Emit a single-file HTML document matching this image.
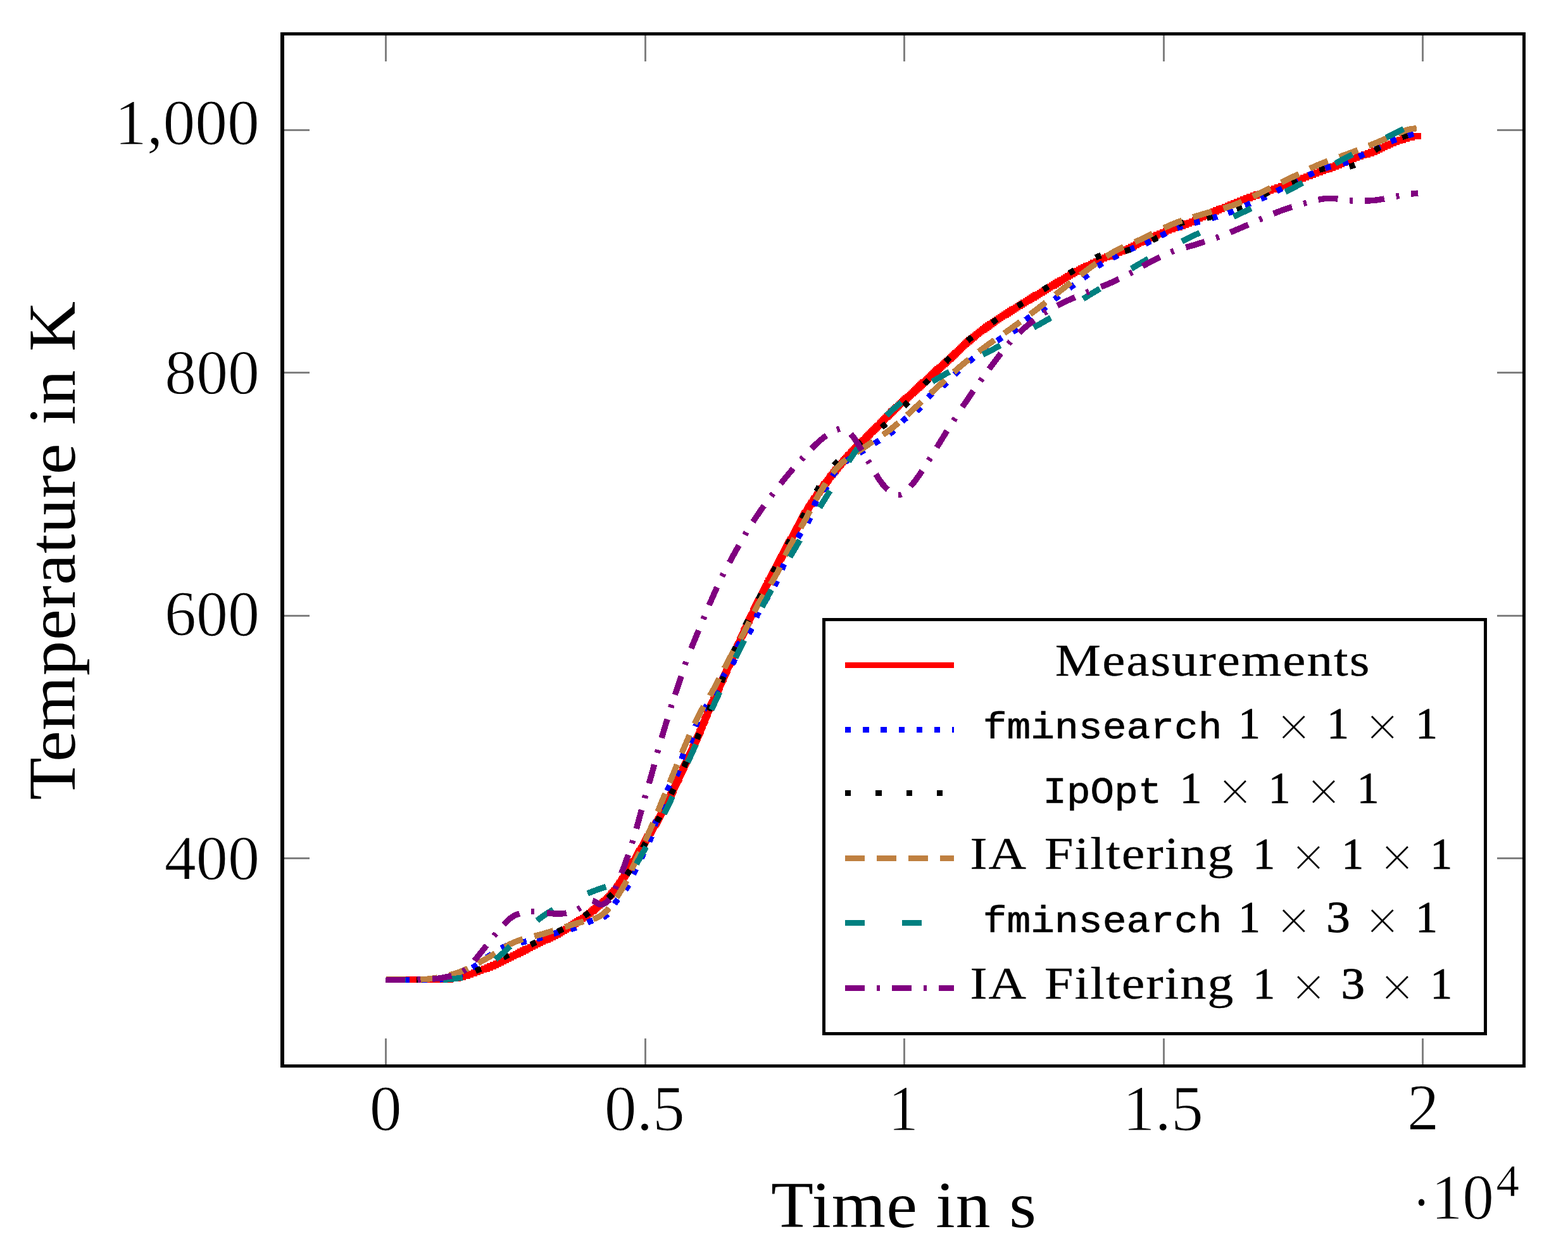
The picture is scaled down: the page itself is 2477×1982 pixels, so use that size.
<!DOCTYPE html>
<html lang="en"><head><meta charset="utf-8"><title>Temperature in K over Time in s</title>
<style>
html,body{margin:0;padding:0;background:#fff;}
body{width:2477px;height:1982px;overflow:hidden;}
svg{display:block;}
text{fill:#000;white-space:pre;}
.s{font-family:"Liberation Serif",serif;}
.m{font-family:"Liberation Mono",monospace;}
.c{fill:none;stroke-width:9.4;stroke-linejoin:miter;stroke-linecap:butt;}
.t{stroke:#808080;stroke-width:3;fill:none;}
</style></head><body>
<svg width="2477" height="1982" viewBox="0 0 2477 1982">
<rect x="0" y="0" width="2477" height="1982" fill="#ffffff"/>
<g class="t" shape-rendering="crispEdges">
<path d="M609.5 1683.5V1640M609.5 53.5V97"/>
<path d="M1019 1683.5V1640M1019 53.5V97"/>
<path d="M1428.5 1683.5V1640M1428.5 53.5V97"/>
<path d="M1838 1683.5V1640M1838 53.5V97"/>
<path d="M2247.5 1683.5V1640M2247.5 53.5V97"/>
<path d="M446 205.5H489M2407.5 205.5H2364.5"/>
<path d="M446 588.8H489M2407.5 588.8H2364.5"/>
<path d="M446 972.1H489M2407.5 972.1H2364.5"/>
<path d="M446 1355.4H489M2407.5 1355.4H2364.5"/>
</g>
<defs><clipPath id="cp"><rect x="446" y="53.5" width="1961.5" height="1630"/></clipPath></defs>
<g clip-path="url(#cp)" shape-rendering="crispEdges">
<path class="c" stroke="#ff0000" d="M609.5 1547H711.7V1545.1H723.7V1543.2H731.5V1541.3H737.9V1539.4H743.6V1537.5H748.9V1535.6H754.2V1533.6H759.4V1531.7H764.4V1529.8H769.4V1527.9H774.1V1526H778.8V1524.1H783.3V1522.1H787.6V1520.2H791.7V1518.3H795.7V1516.4H799.6V1514.5H803.4V1512.6H807.1V1510.6H810.9V1508.7H814.6V1506.8H818.4V1504.9H822.1V1503H825.9V1501.1H829.8V1499.1H833.7V1497.2H837.6V1495.3H841.4V1493.4H845.4V1491.5H849.3V1489.6H853.2V1487.6H857.2V1485.7H861.2V1483.8H865.1V1481.9H869V1480H873V1478.1H877.1V1476.1H880.8V1474.2H884.4V1472.3H887.6V1470.4H890.8V1468.5H893.8V1466.6H896.9V1464.6H900V1462.7H903V1460.8H905.9V1458.9H908.9V1457H911.8V1455.1H914.7V1453.1H917.6V1451.2H920.4V1449.3H923.2V1447.4H925.9V1445.5H928.5V1443.6H931.1V1441.6H933.5V1439.7H935.8V1437.8H938.1V1435.9H940.3V1434H942.5V1432.1H944.7V1430.1H946.9V1428.2H949.2V1426.3H951.6V1424.4H953.9V1422.5H956.3V1420.6H958.6V1418.6H960.7V1416.7H962.7V1414.8H964.4V1412.9H966.1V1411H967.7V1409.1H969.3V1407.1H970.8V1405.2H972.2V1403.3H973.6V1401.4H975V1399.5H976.4V1397.6H977.7V1395.6H979.1V1393.7H980.4V1391.8H981.7V1389.9H983.1V1388H984.4V1386.1H985.6V1384.1H986.9V1382.2H988.2V1380.3H989.4V1378.4H990.6V1376.5H991.8V1374.6H993V1372.6H994.2V1370.7H995.3V1368.8H996.5V1366.9H997.7V1365H998.8V1363.1H1000V1361.1H1001.1V1359.2H1002.3V1357.3H1003.4V1355.4H1004.6V1353.5H1005.7V1351.6H1006.8V1349.7H1007.9V1347.7H1009V1345.8H1010.1V1343.9H1011.3V1342H1012.3V1340.1H1013.4V1338.2H1014.5V1336.2H1015.6V1334.3H1016.7V1332.4H1017.8V1330.5H1018.8V1328.6H1019.9V1326.7H1020.9V1324.7H1022V1322.8H1023.1V1320.9H1024.3V1319H1025.4V1317.1H1026.6V1315.2H1027.8V1313.2H1028.9V1311.3H1030.2V1309.4H1031.3V1307.5H1032.6V1305.6H1033.7V1303.7H1034.9V1301.7H1036.1V1299.8H1037.3V1297.9H1038.4V1296H1039.5V1294.1H1040.5V1292.2H1041.5V1290.2H1042.6V1288.3H1043.6V1286.4H1044.6V1284.5H1045.6V1282.6H1046.6V1280.7H1047.6V1278.7H1048.6V1276.8H1049.6V1274.9H1050.6V1273H1051.5V1271.1H1052.5V1269.2H1053.4V1267.2H1054.4V1265.3H1055.4V1263.4H1056.3V1261.5H1057.3V1259.6H1058.2V1257.7H1059.1V1255.7H1060.1V1253.8H1061V1251.9H1061.9V1250H1062.9V1248.1H1063.8V1246.2H1064.7V1244.2H1065.6V1242.3H1066.6V1240.4H1067.5V1238.5H1068.4V1236.6H1069.3V1234.7H1070.2V1232.7H1071.1V1230.8H1071.9V1228.9H1072.8V1227H1073.7V1225.1H1074.6V1223.2H1075.5V1221.2H1076.4V1219.3H1077.3V1217.4H1078.1V1215.5H1079V1213.6H1079.9V1211.7H1080.8V1209.7H1081.6V1207.8H1082.5V1205.9H1083.4V1204H1084.3V1202.1H1085.2V1200.2H1086.1V1198.2H1086.9V1196.3H1087.8V1194.4H1088.8V1192.5H1089.6V1190.6H1090.5V1188.7H1091.4V1186.7H1092.3V1184.8H1093.2V1182.9H1094.1V1181H1094.9V1179.1H1095.8V1177.2H1096.7V1175.2H1097.5V1173.3H1098.4V1171.4H1099.3V1169.5H1100.1V1167.6H1101V1165.7H1101.8V1163.8H1102.7V1161.8H1103.5V1159.9H1104.3V1158H1105.1V1156.1H1106V1154.2H1106.8V1152.3H1107.5V1150.3H1108.3V1148.4H1109.2V1146.5H1110V1144.6H1110.7V1142.7H1111.5V1140.8H1112.3V1138.8H1113.1V1136.9H1113.9V1135H1114.7V1133.1H1115.4V1131.2H1116.2V1129.3H1117V1127.3H1117.9V1125.4H1118.6V1123.5H1119.5V1121.6H1120.3V1119.7H1121.1V1117.8H1122V1115.8H1122.8V1113.9H1123.6V1112H1124.5V1110.1H1125.3V1108.2H1126.2V1106.3H1127.1V1104.3H1127.9V1102.4H1128.8V1100.5H1129.7V1098.6H1130.6V1096.7H1131.5V1094.8H1132.4V1092.8H1133.2V1090.9H1134.1V1089H1135V1087.1H1135.9V1085.2H1136.8V1083.3H1137.6V1081.3H1138.5V1079.4H1139.4V1077.5H1140.2V1075.6H1141.1V1073.7H1142V1071.8H1142.8V1069.8H1143.7V1067.9H1144.5V1066H1145.4V1064.1H1146.3V1062.2H1147.1V1060.3H1148V1058.3H1148.8V1056.4H1149.7V1054.5H1150.5V1052.6H1151.4V1050.7H1152.2V1048.8H1153.1V1046.8H1153.9V1044.9H1154.8V1043H1155.6V1041.1H1156.5V1039.2H1157.3V1037.3H1158.1V1035.3H1159V1033.4H1159.8V1031.5H1160.6V1029.6H1161.5V1027.7H1162.3V1025.8H1163.2V1023.8H1164V1021.9H1164.9V1020H1165.7V1018.1H1166.6V1016.2H1167.4V1014.3H1168.3V1012.3H1169.1V1010.4H1170V1008.5H1170.9V1006.6H1171.7V1004.7H1172.6V1002.8H1173.4V1000.8H1174.3V998.9H1175.1V997H1176V995.1H1176.9V993.2H1177.7V991.3H1178.6V989.3H1179.5V987.4H1180.3V985.5H1181.2V983.6H1182.1V981.7H1182.9V979.8H1183.8V977.8H1184.7V975.9H1185.6V974H1186.5V972.1H1187.4V970.2H1188.3V968.3H1189.2V966.4H1190.1V964.4H1191V962.5H1191.9V960.6H1192.8V958.7H1193.8V956.8H1194.7V954.9H1195.7V952.9H1196.6V951H1197.6V949.1H1198.5V947.2H1199.5V945.3H1200.4V943.4H1201.4V941.4H1202.4V939.5H1203.3V937.6H1204.3V935.7H1205.3V933.8H1206.3V931.9H1207.2V929.9H1208.2V928H1209.2V926.1H1210.2V924.2H1211.2V922.3H1212.1V920.4H1213.2V918.4H1214.1V916.5H1215.2V914.6H1216.2V912.7H1217.2V910.8H1218.2V908.9H1219.3V906.9H1220.3V905H1221.3V903.1H1222.3V901.2H1223.4V899.3H1224.4V897.4H1225.4V895.4H1226.5V893.5H1227.5V891.6H1228.6V889.7H1229.6V887.8H1230.6V885.9H1231.7V883.9H1232.7V882H1233.8V880.1H1234.8V878.2H1235.8V876.3H1236.9V874.4H1237.9V872.4H1238.9V870.5H1239.9V868.6H1241V866.7H1241.9V864.8H1243V862.9H1244V860.9H1245V859H1246.1V857.1H1247.1V855.2H1248.1V853.3H1249.1V851.4H1250.2V849.4H1251.2V847.5H1252.3V845.6H1253.3V843.7H1254.3V841.8H1255.4V839.9H1256.4V837.9H1257.4V836H1258.5V834.1H1259.5V832.2H1260.5V830.3H1261.5V828.4H1262.5V826.4H1263.5V824.5H1264.5V822.6H1265.6V820.7H1266.6V818.8H1267.7V816.9H1268.7V814.9H1269.9V813H1271V811.1H1272.1V809.2H1273.2V807.3H1274.5V805.4H1275.7V803.4H1276.9V801.5H1278.1V799.6H1279.4V797.7H1280.7V795.8H1281.9V793.9H1283.2V791.9H1284.5V790H1285.8V788.1H1287.1V786.2H1288.4V784.3H1289.7V782.4H1291.1V780.5H1292.4V778.5H1293.8V776.6H1295.1V774.7H1296.5V772.8H1297.8V770.9H1299.2V769H1300.7V767H1302V765.1H1303.4V763.2H1304.9V761.3H1306.3V759.4H1307.8V757.5H1309.2V755.5H1310.7V753.6H1312.1V751.7H1313.7V749.8H1315.2V747.9H1316.7V746H1318.2V744H1319.8V742.1H1321.4V740.2H1323V738.3H1324.7V736.4H1326.3V734.5H1328V732.5H1329.6V730.6H1331.3V728.7H1333V726.8H1334.7V724.9H1336.4V723H1338.2V721H1339.9V719.1H1341.6V717.2H1343.3V715.3H1345.1V713.4H1346.8V711.5H1348.7V709.5H1350.5V707.6H1352.4V705.7H1354.4V703.8H1356.4V701.9H1358.4V700H1360.3V698H1362.3V696.1H1364.3V694.2H1366.2V692.3H1368.1V690.4H1370V688.5H1371.9V686.5H1373.8V684.6H1375.7V682.7H1377.7V680.8H1379.6V678.9H1381.5V677H1383.5V675H1385.4V673.1H1387.3V671.2H1389.2V669.3H1391.1V667.4H1393V665.5H1394.8V663.5H1396.7V661.6H1398.6V659.7H1400.5V657.8H1402.4V655.9H1404.3V654H1406.2V652H1408.1V650.1H1410.1V648.2H1412.1V646.3H1414.1V644.4H1416.1V642.5H1418.2V640.5H1420.3V638.6H1422.4V636.7H1424.5V634.8H1426.7V632.9H1428.9V631H1431.1V629H1433.2V627.1H1435.3V625.2H1437.5V623.3H1439.7V621.4H1441.8V619.5H1443.9V617.5H1446V615.6H1448V613.7H1450V611.8H1452.1V609.9H1454.1V608H1456.1V606H1458.1V604.1H1460.2V602.2H1462.2V600.3H1464.3V598.4H1466.3V596.5H1468.4V594.5H1470.5V592.6H1472.6V590.7H1474.7V588.8H1476.8V586.9H1479V585H1481.1V583.1H1483.2V581.1H1485.4V579.2H1487.6V577.3H1489.7V575.4H1491.8V573.5H1494V571.6H1496.1V569.6H1498.2V567.7H1500.3V565.8H1502.3V563.9H1504.4V562H1506.4V560.1H1508.4V558.1H1510.4V556.2H1512.3V554.3H1514.2V552.4H1516.3V550.5H1518.2V548.6H1520.2V546.6H1522.3V544.7H1524.3V542.8H1526.5V540.9H1528.6V539H1530.9V537.1H1533.2V535.1H1535.5V533.2H1537.8V531.3H1540.2V529.4H1542.7V527.5H1545.2V525.6H1547.7V523.6H1550.2V521.7H1552.8V519.8H1555.5V517.9H1558.1V516H1560.8V514.1H1563.5V512.1H1566.2V510.2H1568.9V508.3H1571.7V506.4H1574.5V504.5H1577.4V502.6H1580.2V500.6H1583.2V498.7H1586.2V496.8H1589.2V494.9H1592.2V493H1595.3V491.1H1598.4V489.1H1601.5V487.2H1604.6V485.3H1607.7V483.4H1610.8V481.5H1613.9V479.6H1617V477.6H1620.2V475.7H1623.3V473.8H1626.5V471.9H1629.7V470H1632.9V468.1H1636.1V466.1H1639.3V464.2H1642.5V462.3H1645.8V460.4H1649V458.5H1652.1V456.6H1655.4V454.6H1658.5V452.7H1661.6V450.8H1664.8V448.9H1667.9V447H1671V445.1H1674.2V443.1H1677.3V441.2H1680.5V439.3H1683.7V437.4H1687V435.5H1690.4V433.6H1693.8V431.6H1697.3V429.7H1700.8V427.8H1704.3V425.9H1708V424H1711.7V422.1H1715.4V420.1H1719.3V418.2H1723.2V416.3H1727.1V414.4H1731.2V412.5H1735.4V410.6H1739.7V408.6H1744.2V406.7H1748.9V404.8H1753.8V402.9H1758.7V401H1763.7V399.1H1768.6V397.1H1773.4V395.2H1778.1V393.3H1782.5V391.4H1786.7V389.5H1790.9V387.6H1794.9V385.7H1798.7V383.7H1802.7V381.8H1806.6V379.9H1810.4V378H1814.4V376.1H1818.5V374.2H1822.7V372.2H1827V370.3H1831.6V368.4H1836.3V366.5H1841.4V364.6H1846.7V362.7H1852V360.7H1857.5V358.8H1862.9V356.9H1868.2V355H1873.2V353.1H1878.2V351.2H1882.8V349.2H1887.2V347.3H1891.4V345.4H1895.6V343.5H1899.8V341.6H1903.8V339.7H1907.9V337.7H1912.1V335.8H1916.4V333.9H1920.8V332H1925.4V330.1H1929.9V328.2H1934.6V326.2H1939.3V324.3H1944V322.4H1948.9V320.5H1953.7V318.6H1958.6V316.7H1963.6V314.7H1968.7V312.8H1973.8V310.9H1979.2V309H1984.9V307.1H1990.6V305.2H1996.3V303.2H2002V301.3H2007.5V299.4H2012.9V297.5H2018.1V295.6H2023.2V293.7H2028.3V291.7H2033.3V289.8H2038.4V287.9H2043.4V286H2048.4V284.1H2053.4V282.2H2058.6V280.2H2063.7V278.3H2069V276.4H2074.3V274.5H2079.6V272.6H2084.9V270.7H2090.2V268.7H2095.3V266.8H2100.4V264.9H2105.3V263H2110.1V261.1H2115V259.2H2119.6V257.2H2124.3V255.3H2129.1V253.4H2133.8V251.5H2138.6V249.6H2143.7V247.7H2148.9V245.7H2154.6V243.8H2160.4V241.9H2165.8V240H2170.8V238.1H2175.4V236.2H2179.6V234.2H2183.7V232.3H2187.7V230.4H2191.9V228.5H2196.2V226.6H2200.9V224.7H2205.9V222.7H2211V220.8H2216.4V218.9H2222.4V217H2230.1V215.1H2245"/>
<path class="c" stroke="#0000ff" stroke-dasharray="9.3 18.9" d="M609.6 1547.2L618.9 1547.2M637.8 1547.2L647 1547.2M666 1547.2L675.2 1547.2M694.2 1547L703.4 1546M721.6 1542.1L726.2 1540.4L730.2 1538.6M746.1 1528.7L753.8 1523.4M768.7 1512.2L776.3 1506.9M791.6 1497.3L795.6 1495.5L800.2 1493.8M822.8 1488.7L831.8 1486.6M847.8 1483L856.8 1480.5M874.3 1474.6L883.2 1472M901.4 1467.7L905.8 1466.3L910.2 1464.7M928 1456.9L933 1454.8L936.7 1453.7M952.6 1449.2L956.4 1446.9L960 1443.6M970.7 1427.6L973 1424.2L976.2 1420.1M988.1 1405.5L990.7 1401.6L993 1397.6M1000.6 1380.7L1004.7 1372L1017 1347M1025.8 1329.3L1029.2 1320.6M1034.1 1304.2L1037.5 1294.4L1047.1 1269.1M1054.1 1248.8L1056.2 1244.2L1058.2 1240.5M1068.5 1225.1L1070.6 1221L1072.2 1216.7M1076.8 1198.9L1078.2 1194.7L1080.3 1190.3M1090.2 1173L1092.2 1168.8L1093.9 1164.5M1098.8 1147.3L1100.3 1143.5L1102.4 1138.8M1112 1121.3L1117 1113.4M1128.6 1097.6L1131.2 1093.5L1133.2 1089.6M1140.9 1071.6L1143.1 1067.3L1145.5 1063.6M1156.7 1049.2L1159.1 1045L1160.6 1040.9M1164.8 1022.4L1166.6 1018.1L1169.2 1014.2M1182.6 1000.2L1185.3 996.7L1187.7 992.4M1194.6 975L1196.6 970.6L1200.2 963.9L1213.1 942.5M1223.6 925.5L1227.8 917.2M1235 899.3L1240.7 887L1251.7 865.7M1260.3 849.5L1265.1 841.6M1275.8 825.9L1278.1 821.6L1279.8 817.5M1285.8 798.8L1287.7 794.6L1290.1 790.6M1301.7 776.2L1304.4 772.4L1306.7 768.4M1315.1 751.9L1317.4 748.4L1320.6 744.4M1334.9 730.1L1339.1 726.6L1342.3 724.4M1357.5 715.6L1365.4 710.7M1381.2 700.4L1389.1 695.5M1405.2 685.6L1409.1 682.6L1412.3 679.7M1425 665.7L1428.4 662.5L1432.1 659.7M1447.9 649.3L1451.5 646.3L1454.7 642.9M1466.1 627.7L1469.1 624.5L1472.8 621.3M1488.9 610.2L1492.3 607.5L1495.9 604.1M1507.9 591.5L1514.6 585.1M1530.8 571.1L1542.5 561.8L1560.6 548.5M1575 538.2L1582.9 533.3M1599.8 524.3L1603.9 521.6L1607.3 518.7M1620.2 505.3L1623.6 502.5L1627.6 499.7M1645 490.2L1648.7 487.8L1652.6 484.9M1665.9 473L1673.2 467.1M1689.6 454.9L1697.2 449.5M1711.7 439.3L1719 433.6M1733.9 420.8L1737.7 418.1L1741.6 415.6M1757.6 407.5L1765.9 403.3M1783.8 394.6L1792.3 391M1809.4 384.8L1817.9 381M1834 372.5L1842.3 368.3M1859.5 360.3L1868.2 357.1M1886.5 352.2L1895.5 349.8M1914.3 344.6L1923.3 342M1940.1 336.6L1948.8 333.2M1966.8 325L1975.3 321.3M1992 314.3L2000.4 310.4M2016.9 301.7L2025.2 297.5M2042.2 289.1L2050.5 284.9M2066.9 276.5L2075.4 272.6M2093.4 265.6L2102.3 262.8M2121.3 258.5L2125.5 257.2L2130 255.4M2146.5 247.3L2154.9 243.3M2172.2 235.5L2180.6 231.5M2197.2 223.5L2205.8 220M2224.2 214L2233.1 211.3"/>
<path class="c" stroke="#000000" stroke-dasharray="9.2 39.2" d="M609.5 1547.2L618.7 1547.2M657.9 1547.2L667.1 1547.2M706.3 1546.9L715.4 1545.4M751.3 1533.4L759.8 1529.9M795.3 1512.1L803.6 1508.1M838.3 1491.9L846.7 1487.9M881.3 1471.3L889.4 1466.9M922.9 1446.6L930.5 1441.4M961 1418.4L967.5 1411.9M990.2 1381.7L995.3 1374M1015.6 1338.8L1020 1330.8M1037.9 1298.1L1042.1 1289.9M1060.3 1254.3L1064.3 1246.1M1080.5 1211.3L1084.3 1202.9M1100.7 1167.1L1104.4 1158.7M1119.6 1122.2L1123.2 1113.8M1139.6 1077.2L1143.2 1068.8M1158.6 1030L1162.2 1021.6M1177.5 987.7L1181.5 979.3M1197.9 946.4L1202.1 938.2M1220.8 903.9L1225.2 895.7M1243.7 860.6L1248.1 852.6M1266.8 818.8L1271.2 810.8M1289.5 776.3L1294.3 768.5M1317.4 734.8L1323.6 728M1353.4 703.3L1360.7 697.7M1392.7 675.1L1399.8 669.2M1428 641.7L1434.4 635.1M1460.6 606.8L1466.8 600M1493.8 571.6L1500.3 565M1528.5 538.2L1535.6 532.3M1567.2 509.5L1574.8 504.3M1607.8 483.5L1615.6 478.5M1648.2 457.5L1656 452.5M1689.2 431.6L1697 426.8M1730.7 406.7L1735.1 404.8L1739.3 403.4M1776.9 396.7L1785.7 394.1M1820.4 379.5L1828.5 375.2M1861.8 354.2L1866 352.4L1870.3 350.9M1906.6 344.3L1915.5 342.1M1953.5 330.1L1962 326.5M1996.1 307.8L2004.3 303.7M2040.1 287.5L2048.5 283.8M2084.1 268.2L2089 266.8L2093 266M2131.7 263.3L2136.1 262L2140.3 260.2M2171.9 237.3L2179.8 232.7M2215 216.7L2223.7 213.5"/>
<path class="c" stroke="#bf8040" stroke-dasharray="31 19" d="M609.5 1546.4L628.5 1546.4L640.5 1546.7M659.5 1547L666.8 1546.8L673.3 1546.4L682 1545.4L690.4 1544.1M710.2 1540L718.4 1537.7L725.9 1535.2L732.4 1532.6L739.3 1529.5M755.3 1521.1L772.1 1511.8L782.1 1505.6M797.5 1495.7L804.5 1491.7L811 1488.6L817.9 1485.9L825.8 1483.3M844.2 1478.4L856.6 1475.2L874 1469.8M892.4 1464L909.9 1458.5L922.2 1455.4M937.1 1451.5L941 1450.1L944.3 1448.6L947.4 1447L950.2 1445.3L953.3 1442.9L956.2 1440.4L959.2 1437.5L962.2 1434.1M974.2 1417.5L984.2 1401.4L989.9 1390.8M997.6 1374.1L1002.8 1362.5L1010.7 1346M1019.1 1328L1025.7 1313.4L1031.6 1299.7M1039 1281.9L1050.8 1253.3M1057.8 1236L1069.6 1207.4M1077 1189.3L1089.3 1160.8M1097.2 1143L1104.5 1128.2L1111.5 1115.5M1121.4 1098.8L1128.7 1086L1136.2 1071.5M1144.2 1055.6L1151.1 1042.2L1158.8 1028.2M1169.5 1009.4L1177.5 994.9L1184 982M1191.4 966.4L1198.7 952.5L1206.6 939.4M1217.2 922.9L1225 909.8L1228.4 903.4L1232.1 895.8M1240.4 877.6L1246.9 864.4L1254.9 850.2M1264.6 833.8L1272.8 819.7L1279.7 806.7M1288.4 789.9L1294.3 779.5L1304.3 763.3M1315.2 747.3L1320.4 740.8L1325.6 735.2L1330.9 730.3L1337.1 725.4M1353.1 714.6L1378.8 697.3M1394.9 686.7L1407.1 677.9L1419.4 667.7M1433.1 655.4L1455.9 634.4M1470 621.3L1492.8 600.3M1506.8 587.6L1517.7 578L1530.5 567.6M1546 555.4L1560 544.9L1571 537M1586.5 526.3L1597.3 518.6L1611.6 508.2M1627.5 496.4L1652 477.5M1667.3 465.3L1691.7 446.1M1706.7 434.3L1716.3 427.1L1731.7 415.9M1747.7 404.9L1754.9 400.4L1761.6 396.5L1767.8 393.3L1774.8 390M1792.6 382.3L1806.3 376.2L1820.7 369.1M1838.6 360.1L1845.8 356.7L1852.5 353.8L1859.5 351.1L1867.2 348.3M1884.5 342.9L1902.9 337.3L1914.2 334.2M1932.6 329.3L1940.2 326.9L1946.8 324.7L1954.1 321.9L1961.6 318.6M1979.2 310.4L2007.1 296.9M2024.1 288.4L2051.9 274.6M2069.1 266.2L2083.7 259.7L2097.6 254.3M2115.9 247.8L2128.4 243.3L2145 236.9M2162 230.2L2179 223.4L2190.7 218.4M2208.1 210.9L2217.4 207.2L2224.3 204.8L2228.7 203.8L2237.8 202.7"/>
<path class="c" stroke="#008080" stroke-dasharray="31 59" d="M609.5 1547.4L640.5 1547.4M699.8 1547.2L706.5 1546.8L712.2 1546.4L730.6 1543.9M782.7 1515.2L797 1503.1L805.8 1494.6M848.5 1453.9L854.6 1449.2L860.3 1445.1L867 1440.8L874.1 1436.5M928.3 1411L945.3 1404.3L957.4 1400.3M1005.5 1364.4L1012.4 1351.9L1020.8 1337.4M1049.1 1285.7L1055 1273.8L1062.5 1257.7M1086.6 1203.8L1099.3 1175.6M1123.9 1121L1136.9 1092.8M1161.9 1039L1175.7 1011.3M1203.7 958.7L1218.6 931.5M1247.9 879.8L1263.6 853.1M1294.8 801.6L1311.1 775.2M1340.3 728.8L1350.2 714.4L1358.3 703.6M1400.7 655.9L1406.3 650.5L1411.8 645.5L1417.7 640.5L1424 635.5M1472.9 602.6L1488 593.8L1499.8 587.3M1552.7 560.1L1580.2 545.7M1633 517.2L1660 501.9M1711 472L1737.5 455.8M1787.2 424.3L1799.4 417L1814 408.8M1867.3 381.2L1895.1 367.5M1948.6 342.3L1976.6 329M2030.5 303.2L2045.2 295.6L2057.9 288.6M2109.4 258.4L2121.6 251.6L2136.6 243.7M2189.7 217.3L2217.5 203.7"/>
<path class="c" stroke="#800080" stroke-dasharray="31 19 5 19" d="M609.5 1547.2L650.5 1547.4L664.5 1547.1M683.1 1546.2L690.4 1545.5L696.8 1544.5L708.4 1542.2L716.4 1540.2L722.2 1538.3L727.3 1536.3L731.6 1534L735.5 1531.4M749.3 1517.3L763.9 1499.2L777.4 1481.6L783.5 1474.2M795.7 1460.2L801.6 1454.3L807.2 1449.4L810.7 1447.1L815.1 1444.9L822.6 1442.2L826.7 1441L830.4 1440.2L837.5 1439.3L844.4 1439.3M864 1441.6L872.9 1442.8L879.9 1443.2L886.2 1443.1L893.1 1442.3L900.2 1440.9L905 1439.5L911.3 1436.8L917.1 1433.7M936 1422.6L938.6 1423.4L945.4 1427.4L947 1428.2L948.4 1428.6L950 1428.6L952 1428.1L954.1 1427.3L956.3 1426.1L959.2 1424L961.9 1421.7L964.5 1418.9L966.4 1416.3L967.8 1414L969.1 1411L973.6 1399.3M981.7 1379.2L986.7 1366.1L991.5 1352.7L996 1339.6L999.9 1327.3M1005.3 1308.9L1019.8 1255.9M1025.3 1237.3L1030.3 1219.7L1039.7 1184.2M1045.2 1165.5L1061 1112.9M1066.3 1097.2L1071.9 1080.8L1080.1 1055.5L1083.7 1045M1091.8 1024.2L1112.8 973.3M1120.1 955.8L1132.7 927.4L1143 905.8M1152.2 888.4L1169.4 857.3L1179.2 840.5M1189.4 824.2L1196.7 813.2L1203.7 803.1L1221.2 779.4M1233.2 763.9L1241.7 753.4L1250.4 743.1L1259.5 732.8L1269.1 722.3M1282.2 708.3L1288.6 702L1294.4 696.5L1299.3 692.5L1304.9 688.3L1312.2 683.4L1316.6 680.8L1321.8 678.5L1326.6 676.9M1344.1 685.3L1348.5 690.9L1354.6 700.2L1373.6 731.6M1383.6 748.9L1389.1 757.6L1394.1 764.5L1399.4 770.3L1405 775.3L1408 777.5L1410.2 778.8L1412.9 780.1L1415.5 781L1418 781.5L1420.2 781.6L1422.1 781.4L1424.1 780.6M1438.2 768.2L1444.5 760.8L1450.9 752.1L1457.9 741.7L1469.7 723.2M1479.8 706.8L1493.7 684.2L1509 660.2M1520.2 642.9L1535.5 620.3L1551.5 597.7M1562.5 582.8L1586.4 551.2L1591.4 545L1596.2 539.4M1609.9 525.5L1620.4 516.2L1631.9 506.8L1642.8 498.7L1653.3 491.8M1670.2 482.6L1683.9 475.9L1692.1 472.1L1720.4 460.3M1739.2 453.1L1750.5 448.5L1761 443.8L1773.8 437.5L1788.9 429.6M1805 420.4L1816.6 413.9L1833.6 405.3L1844.6 400.2L1854.4 396.3M1873.3 390.6L1885.6 387.2L1901.8 382.1L1915 377.8L1925.7 374M1943.5 367L1962.2 359.1L1993.9 345M2011.8 337.4L2023.8 332.7L2036.9 328.1L2050.3 324L2064 320.2M2082.5 315.4L2087.9 314.4L2093.1 313.6L2098 313.2L2102.3 313.2L2110.4 313.8L2128.7 316.5L2137 317.1M2156.1 317.2L2167.6 316.7L2177.3 315.6L2185.2 314.2L2202.4 310.7L2210.4 309.2M2229 306.3L2240 305"/>
</g>
<rect x="446" y="53.5" width="1961.5" height="1630" fill="none" stroke="#000" stroke-width="5.4" shape-rendering="crispEdges"/>
<rect x="1301.5" y="978.5" width="1045" height="654.2" fill="#fff" stroke="#000" stroke-width="5" shape-rendering="crispEdges"/>
<g shape-rendering="crispEdges">
<path class="c" stroke="#ff0000" d="M1335 1050.4H1507.2"/>
<path class="c" stroke="#0000ff" stroke-dasharray="9.3 18.9" d="M1335 1152.3H1507.2"/>
<path class="c" stroke="#000000" stroke-dasharray="9.2 39.2" d="M1335 1252.4H1507.2"/>
<path class="c" stroke="#bf8040" stroke-dasharray="31 19" d="M1335 1355.4H1507.2"/>
<path class="c" stroke="#008080" stroke-dasharray="31 59" d="M1335 1457.5H1507.2"/>
<path class="c" stroke="#800080" stroke-dasharray="31 19 5 19" d="M1335 1560.4H1507.2"/>
</g>
<text class="s" font-size="100.54" transform="translate(181.10 227.78) scale(1.0120 1)" stroke="#fff" stroke-width="1.1">1,000</text>
<text class="s" font-size="100.54" transform="translate(260.33 621.27) scale(0.9922 1)" stroke="#fff" stroke-width="1.1">800</text>
<text class="s" font-size="100.54" transform="translate(259.92 1004.27) scale(0.9950 1)" stroke="#fff" stroke-width="1.1">600</text>
<text class="s" font-size="100.54" transform="translate(259.79 1387.98) scale(0.9959 1)" stroke="#fff" stroke-width="1.1">400</text>
<text class="s" font-size="100.54" transform="translate(583.66 1784.58) scale(1.0140 1)" stroke="#fff" stroke-width="1.1">0</text>
<text class="s" font-size="100.54" transform="translate(954.77 1784.58) scale(1.0118 1)" stroke="#fff" stroke-width="1.1">0.5</text>
<text class="s" font-size="100.54" transform="translate(1403.48 1784.58) scale(0.9389 1)" stroke="#fff" stroke-width="1.1">1</text>
<text class="s" font-size="100.54" transform="translate(1773.48 1784.58) scale(1.0141 1)" stroke="#fff" stroke-width="1.1">1.5</text>
<text class="s" font-size="102.92" transform="translate(2222.91 1783.98) scale(0.9765 1)" stroke="#fff" stroke-width="1.1">2</text>
<text class="s" font-size="104.38" transform="translate(1218.09 1938.00) scale(1.0508 1)" letter-spacing="1.00">Time in s</text>
<text class="s" font-size="105.14" transform="translate(118.00 1263.52) rotate(-90) scale(1.0453 1)" letter-spacing="0.91">Temperature in K</text>
<g>
<text class="s" font-size="101.60" transform="translate(2230.38 1933.04) scale(0.8889 1)" stroke="#fff" stroke-width="1.1">·</text>
<text class="s" font-size="100.54" transform="translate(2260.69 1925.08) scale(0.9884 1)" stroke="#fff" stroke-width="1.1">10</text>
<text class="s" font-size="71.96" transform="translate(2363.51 1889.17) scale(1.0168 1)" stroke="#fff" stroke-width="0.7">4</text>
</g>
<text class="s" font-size="72.46" transform="translate(1666.78 1066.72) scale(1.1231 1)" letter-spacing="1.79" stroke="#000" stroke-width="0.3">Measurements</text>
<g>
<text class="m" font-size="60.00" transform="translate(1552.71 1166.23) scale(1.0497 1)" stroke="#000" stroke-width="0.7">fminsearch</text>
<text class="s" font-size="69.06" transform="translate(1956.28 1166.15) scale(1.0040 1)" stroke="#000" stroke-width="1.0">1</text>
<text class="s" font-size="95.76" transform="translate(2016.96 1180.32) scale(0.9876 1)" stroke="#fff" stroke-width="1.9">×</text>
<text class="s" font-size="69.06" transform="translate(2096.28 1166.15) scale(1.0040 1)" stroke="#000" stroke-width="1.0">1</text>
<text class="s" font-size="95.76" transform="translate(2156.96 1180.32) scale(0.9876 1)" stroke="#fff" stroke-width="1.9">×</text>
<text class="s" font-size="69.06" transform="translate(2236.28 1166.15) scale(1.0040 1)" stroke="#000" stroke-width="1.0">1</text>
</g>
<g>
<text class="m" font-size="60.00" transform="translate(1552.71 1472.23) scale(1.0497 1)" stroke="#000" stroke-width="0.7">fminsearch</text>
<text class="s" font-size="69.06" transform="translate(1956.28 1472.15) scale(1.0040 1)" stroke="#000" stroke-width="1.0">1</text>
<text class="s" font-size="95.76" transform="translate(2016.96 1486.32) scale(0.9876 1)" stroke="#fff" stroke-width="1.9">×</text>
<text class="s" font-size="69.06" transform="translate(2095.19 1472.15) scale(1.0846 1)" stroke="#000" stroke-width="1.0">3</text>
<text class="s" font-size="95.76" transform="translate(2156.96 1486.32) scale(0.9876 1)" stroke="#fff" stroke-width="1.9">×</text>
<text class="s" font-size="69.06" transform="translate(2236.28 1472.15) scale(1.0040 1)" stroke="#000" stroke-width="1.0">1</text>
</g>
<g>
<text class="m" font-size="60.00" transform="translate(1647.48 1267.92) scale(1.0434 1)" stroke="#000" stroke-width="0.7">IpOpt</text>
<text class="s" font-size="69.06" transform="translate(1863.68 1267.85) scale(1.0040 1)" stroke="#000" stroke-width="1.0">1</text>
<text class="s" font-size="95.76" transform="translate(1924.36 1282.02) scale(0.9876 1)" stroke="#fff" stroke-width="1.9">×</text>
<text class="s" font-size="69.06" transform="translate(2003.68 1267.85) scale(1.0040 1)" stroke="#000" stroke-width="1.0">1</text>
<text class="s" font-size="95.76" transform="translate(2064.36 1282.02) scale(0.9876 1)" stroke="#fff" stroke-width="1.9">×</text>
<text class="s" font-size="69.06" transform="translate(2143.68 1267.85) scale(1.0040 1)" stroke="#000" stroke-width="1.0">1</text>
</g>
<g>
<text class="s" font-size="72.46" transform="translate(1532.27 1371.92) scale(1.1382 1)" letter-spacing="1.61" word-spacing="7.91" stroke="#000" stroke-width="0.3">IA Filtering</text>
<text class="s" font-size="69.06" transform="translate(1979.58 1371.75) scale(1.0040 1)" stroke="#000" stroke-width="1.0">1</text>
<text class="s" font-size="95.76" transform="translate(2040.26 1385.92) scale(0.9876 1)" stroke="#fff" stroke-width="1.9">×</text>
<text class="s" font-size="69.06" transform="translate(2119.58 1371.75) scale(1.0040 1)" stroke="#000" stroke-width="1.0">1</text>
<text class="s" font-size="95.76" transform="translate(2180.26 1385.92) scale(0.9876 1)" stroke="#fff" stroke-width="1.9">×</text>
<text class="s" font-size="69.06" transform="translate(2259.58 1371.75) scale(1.0040 1)" stroke="#000" stroke-width="1.0">1</text>
</g>
<g>
<text class="s" font-size="72.46" transform="translate(1532.27 1576.92) scale(1.1382 1)" letter-spacing="1.61" word-spacing="7.91" stroke="#000" stroke-width="0.3">IA Filtering</text>
<text class="s" font-size="69.06" transform="translate(1979.58 1576.75) scale(1.0040 1)" stroke="#000" stroke-width="1.0">1</text>
<text class="s" font-size="95.76" transform="translate(2040.26 1590.92) scale(0.9876 1)" stroke="#fff" stroke-width="1.9">×</text>
<text class="s" font-size="69.06" transform="translate(2118.49 1576.75) scale(1.0846 1)" stroke="#000" stroke-width="1.0">3</text>
<text class="s" font-size="95.76" transform="translate(2180.26 1590.92) scale(0.9876 1)" stroke="#fff" stroke-width="1.9">×</text>
<text class="s" font-size="69.06" transform="translate(2259.58 1576.75) scale(1.0040 1)" stroke="#000" stroke-width="1.0">1</text>
</g>
</svg></body></html>
